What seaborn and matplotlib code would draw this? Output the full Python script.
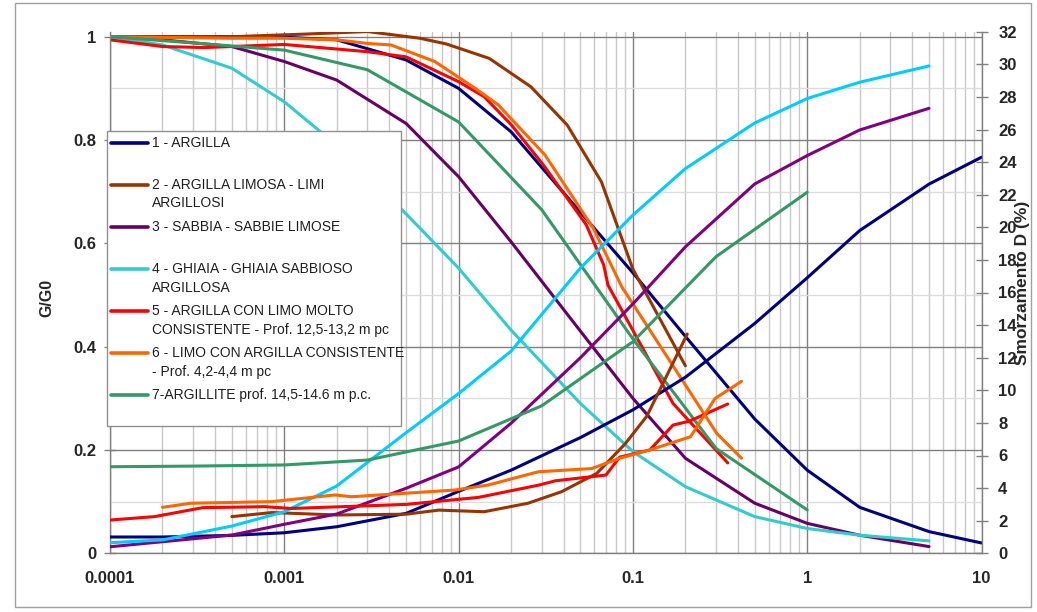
import numpy as np
import pandas as pd
import matplotlib
matplotlib.use("Agg")
import matplotlib.pyplot as plt
import seaborn as sns
from matplotlib.ticker import (FixedLocator, FixedFormatter, MultipleLocator,
                               LogLocator, NullFormatter)
from matplotlib.lines import Line2D
from matplotlib.patches import Rectangle

# ---------------------------------------------------------------- data
labels = [
    "1 - ARGILLA",
    "2 - ARGILLA LIMOSA - LIMI\nARGILLOSI",
    "3 - SABBIA - SABBIE LIMOSE",
    "4 - GHIAIA - GHIAIA SABBIOSO\nARGILLOSA",
    "5 - ARGILLA CON LIMO MOLTO\nCONSISTENTE - Prof. 12,5-13,2 m pc",
    "6 - LIMO CON ARGILLA CONSISTENTE\n- Prof. 4,2-4,4 m pc",
    "7-ARGILLITE prof. 14,5-14.6 m p.c.",
]

# 1 - argilla
strain_1 = [0.0001, 0.0002, 0.0005, 0.001, 0.002, 0.005, 0.01, 0.02, 0.05, 0.1, 0.2, 0.5, 1, 2, 5, 10]
gg0_1 = [1.0, 1.0, 1.0, 0.999, 0.994, 0.955, 0.90, 0.816, 0.66, 0.543, 0.42, 0.26, 0.161, 0.089, 0.042, 0.020]
damp_1 = [1.0, 1.0, 1.1, 1.26, 1.63, 2.45, 3.8, 5.1, 7.1, 8.8, 10.8, 14.1, 16.9, 19.8, 22.65, 24.3]

# 2 - argilla limosa
strain_2g = [0.0001, 0.0005, 0.0013, 0.003, 0.006, 0.0085, 0.015, 0.026, 0.042, 0.066, 0.1, 0.2]
gg0_2 = [1.0, 1.0, 1.005, 1.01, 0.997, 0.986, 0.958, 0.903, 0.829, 0.719, 0.55, 0.363]
strain_2d = [0.0005, 0.00085, 0.002, 0.005, 0.0077, 0.014, 0.025, 0.039, 0.062, 0.09, 0.12, 0.205]
damp_2 = [2.25, 2.5, 2.35, 2.4, 2.65, 2.55, 3.07, 3.78, 4.9, 6.7, 8.4, 13.45]

# 3 - sabbia
strain_3 = [0.0001, 0.0002, 0.0005, 0.001, 0.002, 0.005, 0.01, 0.02, 0.05, 0.1, 0.2, 0.5, 1, 2, 5]
gg0_3 = [1.0, 0.994, 0.981, 0.952, 0.916, 0.832, 0.729, 0.603, 0.43, 0.30, 0.184, 0.097, 0.058, 0.035, 0.013]
damp_3 = [0.4, 0.71, 1.12, 1.78, 2.41, 3.99, 5.3, 7.98, 12.0, 15.3, 18.8, 22.66, 24.4, 25.97, 27.3]

# 4 - ghiaia
strain_4 = [0.0001, 0.0002, 0.0005, 0.001, 0.002, 0.005, 0.01, 0.02, 0.05, 0.1, 0.2, 0.5, 1, 2, 5]
gg0_4 = [1.0, 0.984, 0.939, 0.874, 0.79, 0.657, 0.552, 0.432, 0.29, 0.197, 0.129, 0.071, 0.048, 0.035, 0.024]
damp_4 = [0.65, 0.82, 1.67, 2.55, 4.13, 7.4, 9.8, 12.4, 17.5, 20.75, 23.6, 26.4, 27.9, 28.9, 29.9]

# 5 - argilla con limo (prof. 12,5-13,2 m)
strain_5g = [0.0001, 0.0002, 0.00035, 0.001, 0.003, 0.005, 0.01, 0.014, 0.02, 0.0306, 0.054, 0.068, 0.072, 0.17, 0.35]
gg0_5 = [0.994, 0.981, 0.979, 0.985, 0.971, 0.961, 0.913, 0.884, 0.83, 0.752, 0.636, 0.558, 0.519, 0.29, 0.175]
strain_5d = [0.0001, 0.00018, 0.00034, 0.00077, 0.0011, 0.005, 0.013, 0.029, 0.036, 0.07, 0.084, 0.125, 0.17, 0.21, 0.35]
damp_5 = [2.04, 2.25, 2.8, 2.86, 2.75, 3.0, 3.43, 4.19, 4.45, 4.8, 5.9, 6.34, 7.87, 8.1, 9.16]

# 6 - limo con argilla (prof. 4,2-4,4 m)
strain_6g = [0.0001, 0.0005, 0.001, 0.002, 0.003, 0.0041, 0.0073, 0.0121, 0.0169, 0.0313, 0.0593, 0.0863, 0.303, 0.42]
gg0_6 = [1.0, 0.997, 0.997, 0.994, 0.987, 0.984, 0.952, 0.903, 0.868, 0.771, 0.629, 0.516, 0.232, 0.184]
strain_6d = [0.0002, 0.00029, 0.00085, 0.00195, 0.00244, 0.0095, 0.0148, 0.0286, 0.058, 0.084, 0.125, 0.214, 0.296, 0.42]
damp_6 = [2.82, 3.07, 3.17, 3.58, 3.47, 3.88, 4.19, 5.0, 5.2, 5.83, 6.34, 7.15, 9.5, 10.55]

# 7 - argillite
strain_7 = [0.0001, 0.0003, 0.001, 0.003, 0.01, 0.03, 0.1, 0.3, 1]
gg0_7 = [1.0, 0.988, 0.974, 0.936, 0.835, 0.665, 0.415, 0.203, 0.084]
damp_7 = [5.31, 5.35, 5.42, 5.72, 6.89, 9.05, 12.98, 18.2, 22.15]

x_ticks = [0.0001, 0.001, 0.01, 0.1, 1, 10]
x_tick_labels = ["0.0001", "0.001", "0.01", "0.1", "1", "10"]
g_ticks = [0, 0.2, 0.4, 0.6, 0.8, 1.0]
g_tick_labels = ["0", "0.2", "0.4", "0.6", "0.8", "1"]
d_ticks = list(range(0, 33, 2))

colors_g = ["#000080", "#993300", "#660066", "#33CCCC", "#FF0000", "#FF6600", "#339966"]
colors_d = ["#000080", "#993300", "#800080", "#00CCFF", "#FF0000", "#FF6600", "#339966"]

g_series = [(strain_1, gg0_1), (strain_2g, gg0_2), (strain_3, gg0_3), (strain_4, gg0_4),
            (strain_5g, gg0_5), (strain_6g, gg0_6), (strain_7, gg0_7)]
d_series = [(strain_1, damp_1), (strain_2d, damp_2), (strain_3, damp_3), (strain_4, damp_4),
            (strain_5d, damp_5), (strain_6d, damp_6), (strain_7, damp_7)]


def long_table(series):
    frames = []
    for i, (x, y) in enumerate(series):
        frames.append(pd.DataFrame({"strain": x, "value": y, "curve": str(i + 1)}))
    return pd.concat(frames, ignore_index=True)


df_g = long_table(g_series)
df_d = long_table(d_series)
order = [str(i + 1) for i in range(7)]

# ---------------------------------------------------------------- style
sns.set_style("white")
plt.rcParams["font.family"] = ["Liberation Sans", "DejaVu Sans"]

W, H = 1037, 612
fig = plt.figure(figsize=(W / 100, H / 100), dpi=100)
L, R, B, T = 110, 981.5, 553.3, 31.7
ax = fig.add_axes([L / W, 1 - B / H, (R - L) / W, (B - T) / H])

sns.lineplot(data=df_g, x="strain", y="value", hue="curve", hue_order=order,
             palette=colors_g, estimator=None, linewidth=2.2, legend=False, ax=ax)

ax.set_xscale("log")
ax.set_xlim(1e-4, 10)
ax.set_ylim(0, 1.0097)
ax.xaxis.set_major_locator(FixedLocator(x_ticks))
ax.xaxis.set_major_formatter(FixedFormatter(x_tick_labels))
ax.xaxis.set_minor_locator(LogLocator(base=10, subs=np.arange(2, 10)))
ax.xaxis.set_minor_formatter(NullFormatter())
ax.yaxis.set_major_locator(FixedLocator(g_ticks))
ax.yaxis.set_major_formatter(FixedFormatter(g_tick_labels))
ax.yaxis.set_minor_locator(MultipleLocator(0.1))
ax.set_xlabel("")
ax.set_ylabel("")

ax.set_axisbelow(True)
ax.grid(which="major", axis="x", color="#808080", linewidth=1.0)
ax.grid(which="minor", axis="x", color="#C8C8C8", linewidth=1.0)
ax.grid(which="major", axis="y", color="#808080", linewidth=1.0)
ax.grid(which="minor", axis="y", color="#DCDCDC", linewidth=1.0)

ax.tick_params(which="minor", length=0)
ax.tick_params(axis="y", which="major", direction="inout", length=8, width=1,
               color="#808080", labelsize=12, pad=6)
ax.tick_params(axis="x", which="major", direction="inout", length=8, width=1,
               color="#808080", labelsize=12, pad=9)
for lab in ax.get_xticklabels() + ax.get_yticklabels():
    lab.set_fontweight("bold")

for side in ("top", "right"):
    ax.spines[side].set_visible(False)
for side in ("left", "bottom"):
    ax.spines[side].set_color("#808080")
    ax.spines[side].set_linewidth(1.0)

ax2 = ax.twinx()
sns.lineplot(data=df_d, x="strain", y="value", hue="curve", hue_order=order,
             palette=colors_d, estimator=None, linewidth=2.2, legend=False, ax=ax2)
ax2.set_ylim(0, 32)
ax2.yaxis.set_major_locator(FixedLocator(d_ticks))
ax2.set_ylabel("")
ax2.set_xlabel("")
ax2.tick_params(axis="y", which="major", direction="inout", length=8, width=1,
                color="#808080", labelsize=12, pad=8)
ax2.tick_params(which="minor", length=0)
for lab in ax2.get_yticklabels():
    lab.set_fontweight("bold")
for side in ("top", "left", "bottom"):
    ax2.spines[side].set_visible(False)
ax2.spines["right"].set_color("#808080")
ax2.spines["right"].set_linewidth(1.0)
ax2.grid(False)

# axis titles
fig.text(47 / W, 1 - 298 / H, "G/G0", rotation=90, ha="center", va="center",
         fontsize=11.5, fontweight="bold")
fig.text(1023 / W, 1 - 283 / H, "Smorzamento D (%)", rotation=90, ha="center",
         va="center", fontsize=12.5, fontweight="bold")

# legend box
def fx(px):
    return px / W


def fy(py):
    return 1 - py / H


box = Rectangle((fx(107.3), fy(426)), fx(401) - fx(107.3), fy(131) - fy(426),
                transform=fig.transFigure, facecolor="white", edgecolor="#909090",
                linewidth=1.0, zorder=5)
fig.add_artist(box)
first_y, pitch, line_gap = 142.7, 42.05, 18.7
for i, (lab, col) in enumerate(zip(labels, colors_g)):
    y0 = first_y + i * pitch
    fig.add_artist(Line2D([fx(111), fx(148)], [fy(y0), fy(y0)], transform=fig.transFigure,
                          color=col, linewidth=2.6, zorder=6))
    for j, part in enumerate(lab.split("\n")):
        fig.text(fx(152), fy(y0 + j * line_gap), part, ha="left", va="center",
                 fontsize=10, color="#202020", zorder=7)

# outer frame
fig.add_artist(Rectangle((fx(15), fy(607)), fx(1031) - fx(15), fy(3) - fy(607),
                         transform=fig.transFigure, fill=False, edgecolor="#A0A0A0",
                         linewidth=1.0, zorder=8))

fig.savefig("out.png", dpi=100)
